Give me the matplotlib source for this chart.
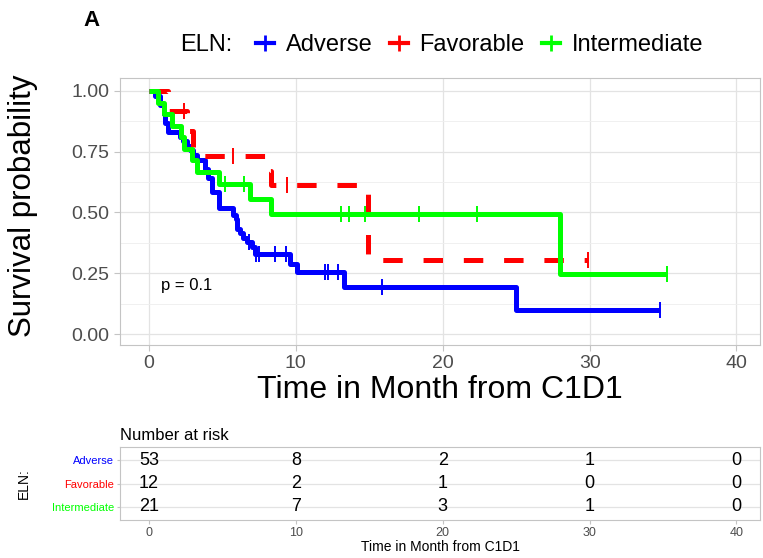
import matplotlib
matplotlib.use("Agg")
import matplotlib.pyplot as plt
import numpy as np
from matplotlib.lines import Line2D

plt.rcParams['font.family'] = ['Liberation Sans', 'DejaVu Sans']
plt.rcParams['lines.scale_dashes'] = False

groups = ["Adverse", "Favorable", "Intermediate"]
colors = ["#0000FF", "#FF0000", "#00FF00"]

# Kaplan-Meier steps (time in months, survival after the step)
adverse_t = [0, 0.4, 0.75, 1.0, 1.1, 1.3, 2.1, 2.3, 2.6, 2.8, 3.0, 3.3, 3.8, 4.0, 4.3, 4.8,
             5.7, 5.9, 6.0, 6.2, 6.4, 6.7, 7.0, 7.2, 9.6, 10.1, 13.3, 25.0]
adverse_s = [1.0, 0.981, 0.943, 0.906, 0.868, 0.830, 0.811, 0.792, 0.774, 0.755, 0.736, 0.717,
             0.679, 0.642, 0.585, 0.519, 0.491, 0.472, 0.434, 0.415, 0.396, 0.377, 0.358, 0.33,
             0.29, 0.255, 0.193, 0.097]
adverse_cens = [6.8, 7.3, 7.5, 8.6, 9.3, 12.0, 12.2, 12.9, 15.9, 34.8]

favorable_t = [0, 1.3, 2.6, 3.0, 8.0, 8.3, 14.9]
favorable_s = [1.0, 0.917, 0.833, 0.733, 0.672, 0.611, 0.305]
favorable_cens = [2.4, 5.7, 9.4, 29.9]

intermediate_t = [0, 0.6, 1.0, 1.6, 2.2, 2.4, 2.9, 3.3, 4.8, 6.9, 8.3, 28.0]
intermediate_s = [1.0, 0.952, 0.905, 0.857, 0.810, 0.762, 0.714, 0.667, 0.619, 0.557, 0.495, 0.248]
intermediate_cens = [5.2, 6.5, 13.1, 13.6, 14.7, 18.4, 22.3, 35.3]

risk_times = [0, 10, 20, 30, 40]
adverse_risk = [53, 8, 2, 1, 0]
favorable_risk = [12, 2, 1, 0, 0]
intermediate_risk = [21, 7, 3, 1, 0]

W, H = 763, 558
fig = plt.figure(figsize=(W / 100, H / 100), dpi=100)

grid_c = '#e3e3e3'
border_c = '#c4c4c4'
tick_c = '#4d4d4d'

# ---- survival curves
ax = fig.add_axes([120 / W, 1 - 345 / H, 640 / W, 267 / H])
ax.set_xlim(-1.97, 41.6)
ax.set_ylim(-0.045, 1.053)
ax.set_xticks([0, 10, 20, 30, 40])
ax.set_yticks([0, 0.25, 0.5, 0.75, 1.0])
ax.set_yticklabels(["0.00", "0.25", "0.50", "0.75", "1.00"])
ax.set_yticks([0.125, 0.375, 0.625, 0.875], minor=True)
ax.grid(True, which='major', color=grid_c, lw=0.9)
ax.grid(True, which='minor', axis='y', color='#eeeeee', lw=0.6)
ax.set_axisbelow(True)
for sp in ax.spines.values():
    sp.set_color(border_c)
ax.tick_params(which='major', direction='out', length=4, color=border_c, labelcolor=tick_c, labelsize=14)
ax.tick_params(which='minor', length=0)


def km_line(ax, t, s, cens, color, ls):
    end = max(cens[-1], t[-1])
    tt = list(t) + [end]
    ss = list(s) + [s[-1]]
    ax.step(tt, ss, where='post', color=color, lw=3.6, linestyle=ls,
            solid_capstyle='butt', dash_capstyle='butt', zorder=3)
    idx = np.searchsorted(t, cens, side='right') - 1
    ax.plot(cens, np.array(s)[idx], linestyle='none', marker='|', ms=11, mew=1.4,
            color=color, zorder=4)


km_line(ax, adverse_t, adverse_s, adverse_cens, colors[0], '-')
km_line(ax, favorable_t, favorable_s, favorable_cens, colors[1], (0, (14, 15)))
km_line(ax, intermediate_t, intermediate_s, intermediate_cens, colors[2], '-')

ax.text(0.8, 0.2, "p = 0.1", fontsize=12, va='center', ha='left')
ax.set_ylabel("Survival probability", fontsize=22.5)
ax.yaxis.set_label_coords(-0.128, 0.52)
ax.set_xlabel("Time in Month from C1D1", fontsize=23, labelpad=2)

# legend on top
fig.text(83 / W, 1 - 21 / H, "A", fontsize=16, fontweight='bold', va='center', ha='left')
fig.text(180 / W, 1 - 45 / H, "ELN:", fontsize=17, va='center', ha='left')
handles = [Line2D([0], [0], color=c, lw=3, marker='|', ms=12, mew=2) for c in colors]
fig.legend(handles, groups, loc='center left', bbox_to_anchor=(256 / W, 1 - 45 / H), ncol=3,
           frameon=False, fontsize=17, handlelength=0.75, handletextpad=0.5,
           columnspacing=0.75, borderaxespad=0, borderpad=0)

# ---- number at risk table
tab = fig.add_axes([120 / W, 1 - 520 / H, 640 / W, 73 / H])
tab.set_xlim(-1.97, 41.6)
tab.set_ylim(0.43, 3.57)
tab.set_xticks([0, 10, 20, 30, 40])
tab.set_yticks([3, 2, 1])
tab.set_yticklabels(groups)
for lab, c in zip(tab.get_yticklabels(), colors):
    lab.set_color(c)
tab.grid(True, axis='y', color=grid_c, lw=0.9)
tab.set_axisbelow(True)
for sp in tab.spines.values():
    sp.set_color(border_c)
tab.tick_params(axis='x', length=3, color=border_c, labelcolor=tick_c, labelsize=9, pad=2)
tab.tick_params(axis='y', length=2, color=border_c, labelsize=8, pad=2)
for row, counts in zip([3, 2, 1], [adverse_risk, favorable_risk, intermediate_risk]):
    for t, n in zip(risk_times, counts):
        tab.text(t, row, str(n), fontsize=13, ha='center', va='center')
tab.set_title("Number at risk", fontsize=12, loc='left', pad=5)
tab.set_xlabel("Time in Month from C1D1", fontsize=10, labelpad=1)
tab.set_ylabel("ELN:", fontsize=10)
tab.yaxis.set_label_coords(-0.14, 0.5)

fig.savefig("out.png", dpi=100)
